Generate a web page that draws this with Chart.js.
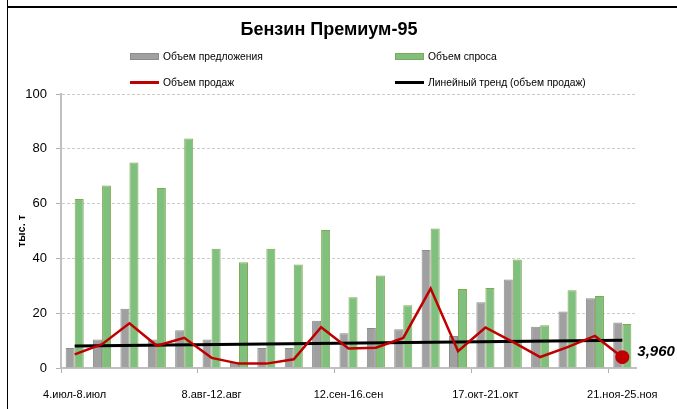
<!DOCTYPE html>
<html>
<head>
<meta charset="utf-8">
<script src="https://cdn.jsdelivr.net/npm/chart.js@4.4.1/dist/chart.umd.min.js"></script>
<style>
  html, body { margin: 0; padding: 0; background: #fff; }
  #wrap { position: relative; width: 677px; height: 409px; overflow: hidden;
          font-family: "Liberation Sans", Arial, sans-serif; color: #000; }
  #chart { position: absolute; left: 0; top: 0; }
  .frame-top { position: absolute; left: 7px; top: 6px; width: 670px; height: 2px; background: #000; }
  .frame-left { position: absolute; left: 7px; top: 0; width: 1px; height: 409px; background: #000; }
  #title { position: absolute; left: 0; top: 18px; width: 658px; text-align: center;
           font-size: 18px; line-height: 22px; font-weight: bold; }
  #legend { position: absolute; left: 130px; top: 43px; display: grid;
            grid-template-columns: 265px auto; grid-auto-rows: 26px; font-size: 10.3px; }
  .lg-item { display: flex; align-items: center; white-space: nowrap; }
  .lg-box { display: inline-block; width: 27px; height: 5px; border: 1px solid; margin-right: 4px; }
  .lg-line { display: inline-block; width: 29px; height: 3px; margin-right: 4px; }
</style>
</head>
<body>
<div id="wrap">
  <canvas id="chart" width="677" height="409"></canvas>
  <div class="frame-top"></div>
  <div class="frame-left"></div>
  <div id="title">Бензин Премиум-95</div>
  <div id="legend"></div>
</div>
<script>
// weeks, Mon-Fri
const weeks = [
  '4.июл-8.июл', '11.июл-15.июл', '18.июл-22.июл', '25.июл-29.июл', '1.авг-5.авг',
  '8.авг-12.авг', '15.авг-19.авг', '22.авг-26.авг', '29.авг-2.сен', '5.сен-9.сен',
  '12.сен-16.сен', '19.сен-23.сен', '26.сен-30.сен', '3.окт-7.окт', '10.окт-14.окт',
  '17.окт-21.окт', '24.окт-28.окт', '31.окт-4.ноя', '7.ноя-11.ноя', '14.ноя-18.ноя',
  '21.ноя-25.ноя'
];

// тыс. т
const supply = [7.3, 10.4, 21.6, 10.4, 13.8, 10.4, 2.2, 7.3, 7.3, 17.2, 12.7,
                14.6, 14.1, 43.1, 11.7, 24.0, 32.3, 15.1, 20.6, 25.5, 16.6];
const demand = [61.7, 66.6, 75.0, 65.7, 83.8, 43.5, 38.6, 43.5, 37.8, 50.4, 25.8,
                33.8, 22.9, 50.9, 28.8, 29.2, 39.6, 15.6, 28.4, 26.3, 16.1];
const sales  = [5.0, 8.7, 16.3, 8.1, 11.0, 3.7, 1.6, 1.6, 3.2, 14.9, 7.1,
                7.4, 11.0, 29.0, 6.1, 14.8, 9.5, 4.0, 7.6, 11.7, 3.96];
// trend line: read only at its two ends, the library draws the straight segment
const trend = [8.0, null, null, null, null, null, null, null, null, null, null,
               null, null, null, null, null, null, null, null, null, 10.1];

const yTicks = { min: 0, max: 100, step: 20 };

Chart.defaults.font.family = '"Liberation Sans", Arial, sans-serif';
Chart.defaults.color = '#000';

// value label next to the last sales point
const lastValueLabel = {
  id: 'lastValueLabel',
  afterDatasetsDraw(chart) {
    const meta = chart.getDatasetMeta(2);
    const pt = meta.data[meta.data.length - 1];
    const v = sales[sales.length - 1];
    const c = chart.ctx;
    c.save();
    c.font = 'italic bold 15px "Liberation Sans", Arial, sans-serif';
    c.fillStyle = '#000';
    c.textAlign = 'left';
    c.textBaseline = 'middle';
    c.fillText(v.toFixed(3).replace('.', ','), pt.x + 15, pt.y - 5);
    c.restore();
  }
};

const chart = new Chart(document.getElementById('chart'), {
  type: 'bar',
  data: {
    labels: weeks,
    datasets: [
      {
        label: 'Объем предложения',
        data: supply,
        backgroundColor: '#a0a0a0',
        borderColor: '#8c8c8c',
        borderWidth: 1,
        categoryPercentage: 0.66,
        barPercentage: 1.0,
        order: 2
      },
      {
        label: 'Объем спроса',
        data: demand,
        backgroundColor: '#80c07e',
        borderColor: '#82a852',
        borderWidth: 1,
        categoryPercentage: 0.66,
        barPercentage: 1.0,
        order: 2
      },
      {
        type: 'line',
        label: 'Объем продаж',
        data: sales,
        borderColor: '#c00000',
        backgroundColor: '#c00000',
        borderWidth: 2.5,
        tension: 0,
        pointRadius: (c) => c.dataIndex === sales.length - 1 ? 7 : 0,
        pointBorderWidth: 0,
        pointBackgroundColor: '#c00000',
        order: 0
      },
      {
        type: 'line',
        label: 'Линейный тренд (объем продаж)',
        data: trend,
        borderColor: '#000',
        backgroundColor: '#000',
        borderWidth: 3,
        spanGaps: true,
        pointRadius: 0,
        order: 1
      }
    ]
  },
  options: {
    responsive: false,
    animation: false,
    devicePixelRatio: 1,
    layout: { padding: { left: 11, right: 41, top: 94, bottom: 5 } },
    plugins: {
      legend: { display: false },
      title: { display: false },
      tooltip: { enabled: false }
    },
    scales: {
      x: {
        grid: {
          drawOnChartArea: false,
          offset: true,
          tickLength: 5,
          tickWidth: 1,
          tickColor: (c) => c.index % 5 === 0 ? '#b0b0b0' : 'rgba(0,0,0,0)'
        },
        border: { color: '#c0c0c0', width: 2 },
        ticks: {
          autoSkip: false,
          maxRotation: 0,
          padding: 15,
          font: { size: 11 },
          callback: (v, i) => i % 5 === 0 ? weeks[i] : ''
        },
        afterFit: (s) => { s.height = 36; }
      },
      y: {
        min: yTicks.min,
        max: yTicks.max,
        ticks: { stepSize: yTicks.step, padding: 9, font: { size: 13 } },
        grid: { color: '#cccccc', tickLength: 5, tickColor: '#b0b0b0', tickBorderDash: [] },
        border: { color: '#c0c0c0', width: 2, dash: [3, 2] },
        title: {
          display: true,
          text: 'тыс. т',
          font: { size: 11, weight: 'bold' },
          padding: { top: 4, bottom: 4 }
        },
        afterFit: (s) => { s.width = 50; }
      }
    }
  },
  plugins: [lastValueLabel]
});

// legend, 2 x 2, built from the datasets
const legendEl = document.getElementById('legend');
chart.data.datasets.forEach((ds) => {
  const item = document.createElement('div');
  item.className = 'lg-item';
  const mark = document.createElement('span');
  if (ds.type === 'line') {
    mark.className = 'lg-line';
    mark.style.background = ds.borderColor;
  } else {
    mark.className = 'lg-box';
    mark.style.background = ds.backgroundColor;
    mark.style.borderColor = ds.borderColor;
  }
  item.appendChild(mark);
  item.appendChild(document.createTextNode(ds.label));
  legendEl.appendChild(item);
});
</script>
</body>
</html>
